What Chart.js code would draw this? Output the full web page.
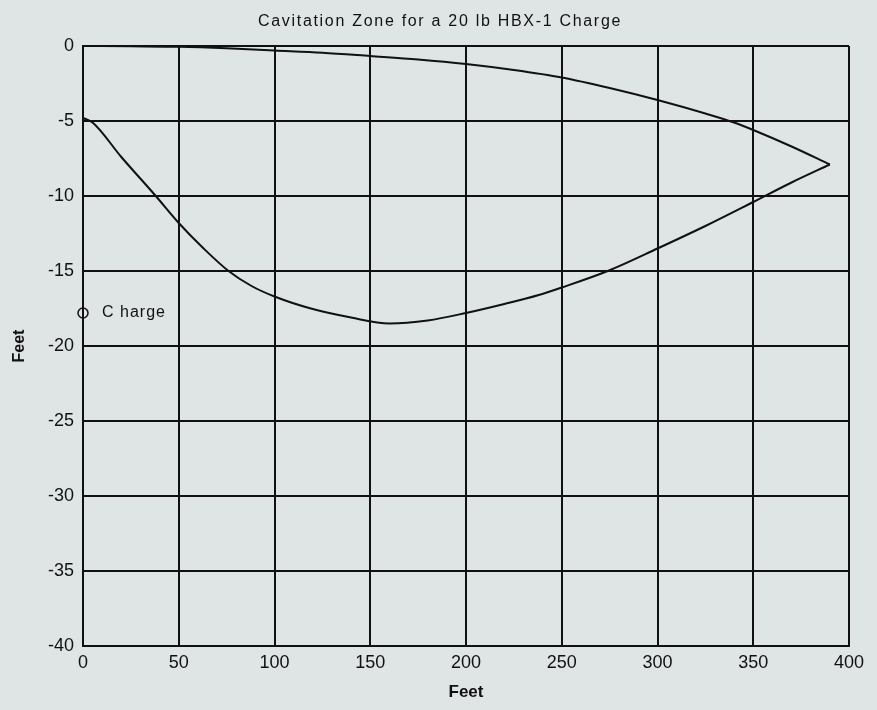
<!DOCTYPE html>
<html>
<head>
<meta charset="utf-8">
<script src="https://cdn.jsdelivr.net/npm/chart.js@4"></script>
<style>
  html, body { margin: 0; padding: 0; background: #dfe4e4; }
  canvas { display: block; }
</style>
</head>
<body>
<canvas id="myChart" width="877" height="710"></canvas>
<script>
// upper boundary of the zone (feet)
const upperX = [0, 25, 50, 75, 100, 125, 150, 175, 200, 225, 250, 275, 300, 325, 340, 350, 370, 390]
const upperY = [0, -0.02, -0.05, -0.15, -0.3, -0.45, -0.67, -0.9, -1.2, -1.6, -2.1, -2.8, -3.6, -4.5, -5.1, -5.6, -6.7, -7.9]

// lower boundary
const lowerX = [0, 5, 20, 38, 50, 63, 76, 88, 100, 119, 140, 160, 180, 200, 220, 238, 250, 274, 300, 325, 350, 370, 390]
const lowerY = [-4.8, -5.1, -7.4, -10, -11.8, -13.5, -15, -16.0, -16.7, -17.5, -18.1, -18.5, -18.3, -17.8, -17.2, -16.6, -16.1, -15, -13.5, -12.0, -10.4, -9.1, -7.9]

const chargeX = [0]
const chargeY = [-17.8]

const xTicks = [0, 50, 100, 150, 200, 250, 300, 350, 400]
const yTicks = [0, -5, -10, -15, -20, -25, -30, -35, -40]

const toPts = (xs, ys) => xs.map((x, i) => ({ x: x, y: ys[i] }))

const font = "'Liberation Sans', Arial, sans-serif"

// title and the "Charge" note
const textBits = {
    id: 'textBits',
    afterDraw(chart) {
        const c = chart.ctx
        c.save()
        c.fillStyle = '#111'
        c.textBaseline = 'middle'
        c.textAlign = 'center'
        c.font = '16px ' + font
        c.letterSpacing = '1.7px'
        c.fillText('Cavitation Zone for a 20 lb HBX-1 Charge', 440, 22)

        const px = chart.scales.x.getPixelForValue(chargeX[0])
        const py = chart.scales.y.getPixelForValue(chargeY[0])
        c.textAlign = 'left'
        c.font = '16px ' + font
        c.letterSpacing = '1px'
        c.fillText('C harge', px + 19, py)
        c.restore()
    }
}

const ctx = document.getElementById('myChart').getContext('2d')

new Chart(ctx, {
    type: 'scatter',
    data: {
        datasets: [
            {
                label: 'upper',
                data: toPts(upperX, upperY),
                showLine: true,
                borderColor: '#111',
                borderWidth: 2,
                pointRadius: 0,
                cubicInterpolationMode: 'monotone',
                fill: false
            },
            {
                label: 'lower',
                data: toPts(lowerX, lowerY),
                showLine: true,
                borderColor: '#111',
                borderWidth: 2,
                pointRadius: 0,
                cubicInterpolationMode: 'monotone',
                fill: false
            },
            {
                label: 'Charge',
                data: toPts(chargeX, chargeY),
                showLine: false,
                pointStyle: 'circle',
                pointRadius: 5,
                borderColor: '#111',
                borderWidth: 1.5,
                backgroundColor: 'rgba(0,0,0,0)'
            }
        ]
    },
    plugins: [textBits],
    options: {
        responsive: false,
        animation: false,
        clip: false,
        layout: { padding: { left: 0, right: 28, top: 46, bottom: 0 } },
        plugins: {
            legend: { display: false },
            tooltip: { enabled: false },
            title: { display: false }
        },
        scales: {
            x: {
                type: 'linear',
                min: 0,
                max: 400,
                afterBuildTicks: s => { s.ticks = xTicks.map(v => ({ value: v })) },
                afterFit: s => { s.height = 64 },
                grid: { color: '#111', lineWidth: 2, drawTicks: false },
                border: { color: '#111', width: 2 },
                ticks: { color: '#111', padding: 6, font: { family: font, size: 18 } },
                title: {
                    display: true,
                    text: 'Feet',
                    color: '#111',
                    font: { family: font, size: 17, weight: 'bold' },
                    padding: { top: 0, bottom: 7 }
                }
            },
            y: {
                type: 'linear',
                min: -40,
                max: 0,
                afterBuildTicks: s => { s.ticks = yTicks.map(v => ({ value: v })) },
                afterFit: s => { s.width = 83 },
                grid: { color: '#111', lineWidth: 2, drawTicks: false },
                border: { color: '#111', width: 2 },
                ticks: { color: '#111', padding: 9, font: { family: font, size: 18 } },
                title: {
                    display: true,
                    text: 'Feet',
                    color: '#111',
                    font: { family: font, size: 16, weight: 'bold' },
                    padding: { top: 10, bottom: 0 }
                }
            }
        }
    }
})
</script>
</body>
</html>
